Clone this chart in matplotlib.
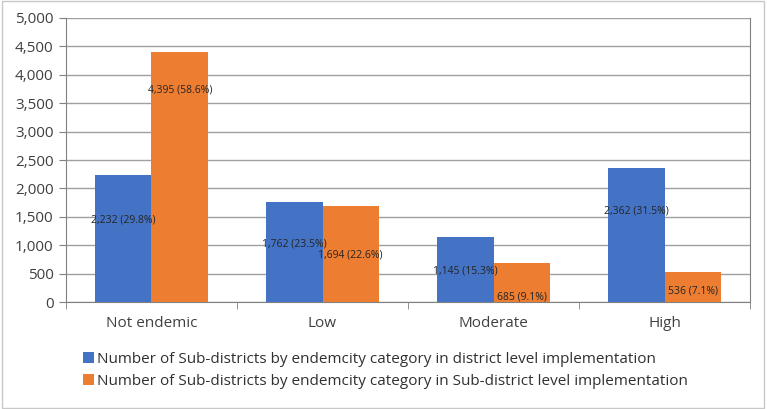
import matplotlib.pyplot as plt
import matplotlib.ticker as ticker
import numpy as np

categories = ['Not endemic', 'Low', 'Moderate', 'High']
district_level = [2232, 1762, 1145, 2362]
subdistrict_level = [4395, 1694, 685, 536]
district_pct = [29.8, 23.5, 15.3, 31.5]
subdistrict_pct = [58.6, 22.6, 9.1, 7.1]
series_names = ['Number of Sub-districts by endemcity category in district level implementation',
                'Number of Sub-districts by endemcity category in Sub-district level implementation']

# where the data labels sit, as fraction of the bar height
district_lab = [0.65, 0.58, 0.48, 0.68]
subdistrict_lab = [0.85, 0.49, 0.13, 0.36]

plt.rcParams['font.family'] = ['Open Sans', 'DejaVu Sans']

fig = plt.figure(figsize=(7.67, 4.09), dpi=100)
ax = fig.add_axes([0.086, 0.2616, 0.892, 0.6944])

x = np.arange(len(categories))
w = 0.33
blue = '#4472C4'
orange = '#ED7D31'
ax.bar(x - w / 2, district_level, w, color=blue, label=series_names[0], zorder=3)
ax.bar(x + w / 2, subdistrict_level, w, color=orange, label=series_names[1], zorder=3)

for i in range(len(categories)):
    ax.text(x[i] - w / 2, district_level[i] * district_lab[i],
            '{:,} ({}%)'.format(district_level[i], district_pct[i]),
            ha='center', va='center', fontsize=7.5, color='#252525', zorder=4)
    ax.text(x[i] + w / 2, subdistrict_level[i] * subdistrict_lab[i],
            '{:,} ({}%)'.format(subdistrict_level[i], subdistrict_pct[i]),
            ha='center', va='center', fontsize=7.5, color='#252525', zorder=4)

ax.set_xlim(-0.5, len(categories) - 0.5)
ax.set_ylim(0, 5000)
ax.yaxis.set_major_locator(ticker.MultipleLocator(500))
ax.yaxis.set_major_formatter(ticker.FuncFormatter(lambda v, p: '{:,}'.format(int(v))))
ax.set_xticks(x)
ax.set_xticklabels(categories)
ax.set_xticks(np.arange(-0.5, len(categories)), minor=True)
ax.tick_params(axis='x', which='major', length=0, pad=10, labelsize=11, colors='#404040')
ax.tick_params(axis='x', which='minor', length=5, color='#808080')
ax.tick_params(axis='y', length=5, color='#808080', labelsize=11, labelcolor='#404040', pad=4)

ax.grid(axis='y', color='#a0a0a0', linewidth=1, zorder=0)
ax.spines['top'].set_visible(False)
for s in ['left', 'right', 'bottom']:
    ax.spines[s].set_color('#808080')

ax.legend(loc='upper left', bbox_to_anchor=(0.1, 0.155), bbox_transform=fig.transFigure,
          frameon=False, fontsize=11, handlelength=0.7, handleheight=0.7,
          handletextpad=0.2, labelspacing=0.45, borderaxespad=0, labelcolor='#303030')

fig.patches.append(plt.Rectangle((0.002, 0.003), 0.994, 0.994, transform=fig.transFigure,
                                 fill=False, edgecolor='#c8c8c8', linewidth=1))

plt.savefig('out.png')
